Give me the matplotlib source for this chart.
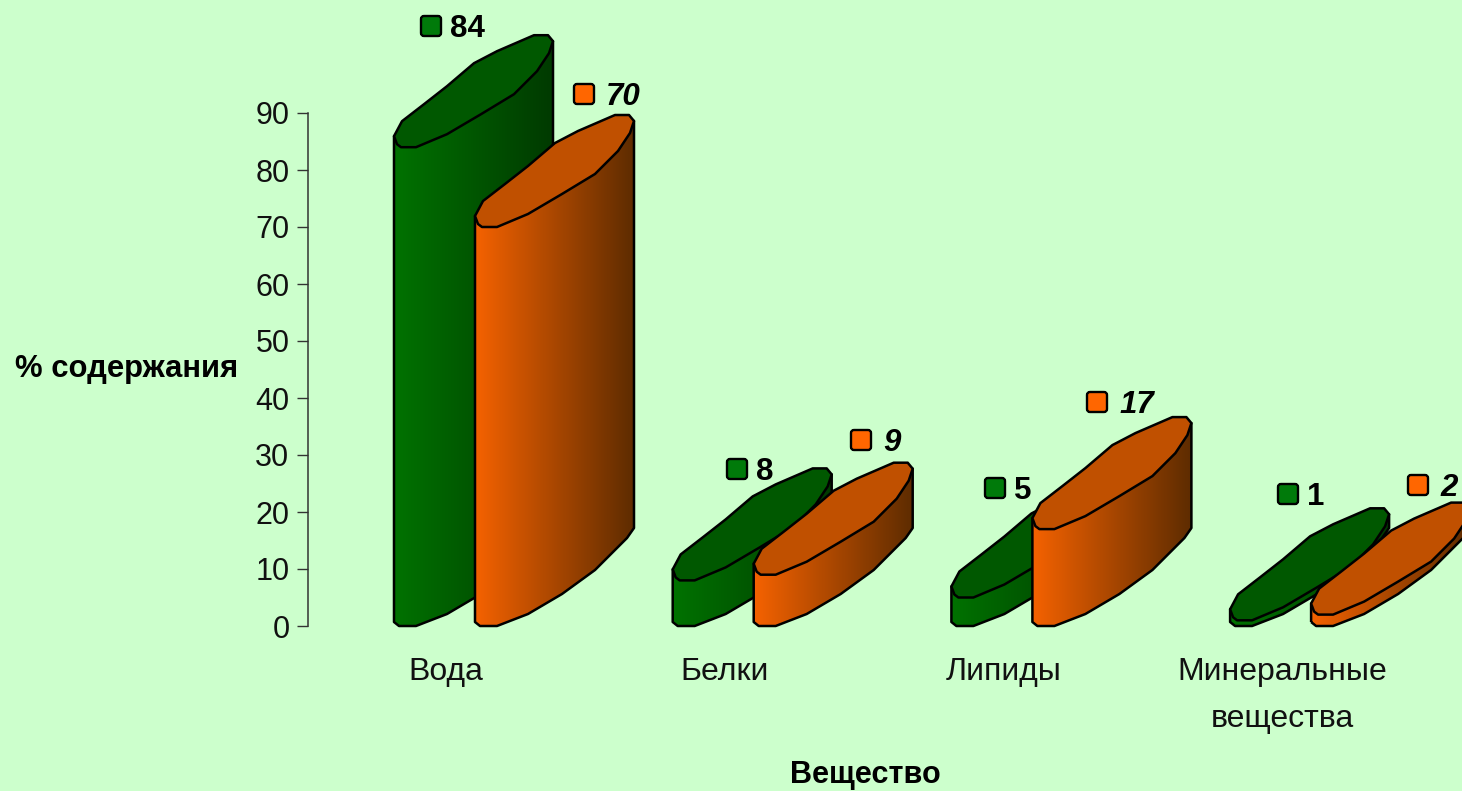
import numpy as np
import matplotlib
matplotlib.use("Agg")
import matplotlib.pyplot as plt
from matplotlib.patches import Polygon, FancyBboxPatch
from matplotlib.colors import LinearSegmentedColormap
from matplotlib.transforms import Affine2D

categories = ["Вода", "Белки", "Липиды", "Минеральные\nвещества"]
series_a = [84, 8, 5, 1]
series_b = [70, 9, 17, 2]
y_ticks = [0, 10, 20, 30, 40, 50, 60, 70, 80, 90]
x_title = "Вещество"
y_title = "% содержания"

BG = "#CCFFCC"
W, H = 1462, 791
plt.rcParams["font.family"] = ["Liberation Sans", "DejaVu Sans"]

fig = plt.figure(figsize=(W / 100, H / 100), dpi=100, facecolor=BG)
L, R, T, B = 307.5, 1462, 113, 626
ax = fig.add_axes([L / W, (H - B) / H, (R - L) / W, (B - T) / H], facecolor="none")
PX_X = 278.7
PX_Y = (B - T) / 90
X0 = 394
XLIM = ((L - X0) / PX_X, (R - X0) / PX_X)
ax.set_xlim(*XLIM)
ax.set_ylim(0, 90)

px = Affine2D().scale(1, -1).translate(0, H)

# outline of the cap and of the lower edge, px offsets from the lowest front point
CAP = [(0, 11), (8, 26), (30, 43), (53, 61), (80, 84), (103, 96), (140, 112), (154, 112),
       (159, 106), (155, 94), (143, 76), (120, 53), (87, 33), (53, 13), (22, 0), (7, 0), (3, 3)]
LOWER = [(0, 4), (5, 0), (22, 0), (53, 12), (87, 32), (120, 56), (140, 76), (152, 88), (159, 98)]
BAR_PX = 159
SHIFT = 81 / PX_X
LW = 1.8


def cylinder(x0, value, c_left, c_right, c_top):
    sx = 1 / PX_X
    sy = 1 / PX_Y
    low = [(x0 + dx * sx, dy * sy) for dx, dy in LOWER]
    body = np.array(low + [(x0 + BAR_PX * sx, value + 106 * sy), (x0, value + 11 * sy)])
    patch = Polygon(body, closed=True, facecolor="none", edgecolor="none", clip_on=False)
    ax.add_patch(patch)
    cmap = LinearSegmentedColormap.from_list("g", [c_left, c_right])
    im = ax.imshow(np.linspace(0, 1, 256).reshape(1, -1), cmap=cmap, aspect="auto",
                   extent=(x0, x0 + BAR_PX * sx, 0, value + 120 * sy), zorder=2, interpolation="bilinear")
    im.set_clip_box(fig.bbox)
    im.set_clip_path(patch)
    ax.add_patch(Polygon(body, closed=True, facecolor="none", edgecolor="black", lw=LW,
                         clip_on=False, zorder=2, joinstyle="round"))
    cap = [(x0 + dx * sx, value + dy * sy) for dx, dy in CAP]
    ax.add_patch(Polygon(cap, closed=True, facecolor=c_top, edgecolor="black", lw=LW,
                         clip_on=False, zorder=2, joinstyle="round"))


GREEN = ("#007200", "#003A00", "#005800", "#007A0A")
ORANGE = ("#F56200", "#5E2C00", "#C05000", "#FF6600")
for i in range(len(categories)):
    cylinder(i, series_a[i], *GREEN[:3])
    cylinder(i + SHIFT, series_b[i], *ORANGE[:3])
ax.set_xlim(*XLIM)
ax.set_ylim(0, 90)

# value labels with their key squares, placed in image pixels
label_a_px = [(431, 26), (737, 469), (995, 488), (1288, 494)]
label_b_px = [(584, 94), (861, 440), (1097, 402), (1418, 485)]
for vals, places, col, style, gap in ((series_a, label_a_px, GREEN[3], "normal", 19),
                                      (series_b, label_b_px, ORANGE[3], "italic", 22)):
    for v, (x, y) in zip(vals, places):
        ax.add_patch(FancyBboxPatch((x - 8, y - 8), 16, 16, boxstyle="round,pad=2,rounding_size=3",
                                    facecolor=col, edgecolor="black", lw=1.7, transform=px,
                                    clip_on=False, zorder=4))
        ax.text(x + gap, y + 3, str(v), transform=px, ha="left", va="center", fontsize=22.5,
                fontweight="bold", fontstyle=style, color="black", clip_on=False, zorder=4)

# axes
for s in ("top", "right", "bottom"):
    ax.spines[s].set_visible(False)
ax.spines["left"].set_color("#333333")
ax.spines["left"].set_linewidth(1.1)
ax.set_yticks(y_ticks)
ax.tick_params(axis="y", length=8, width=1.0, color="#333333", pad=5, labelsize=22, labelcolor="#111111")
ax.set_xticks([i + 52 / PX_X for i in range(len(categories))])
ax.set_xticklabels(categories, linespacing=1.75)
ax.tick_params(axis="x", length=0, pad=22, labelsize=23, labelcolor="#111111")

ax.set_ylabel(y_title, rotation=0, ha="center", va="center", fontsize=22.3, fontweight="bold", color="black")
ax.yaxis.set_label_coords(126.5, 369, transform=px)
ax.set_xlabel(x_title, ha="center", va="center", fontsize=22.1, fontweight="bold", color="black")
ax.xaxis.set_label_coords(865, 775, transform=px)

fig.savefig("out.png", dpi=100, facecolor=BG)
